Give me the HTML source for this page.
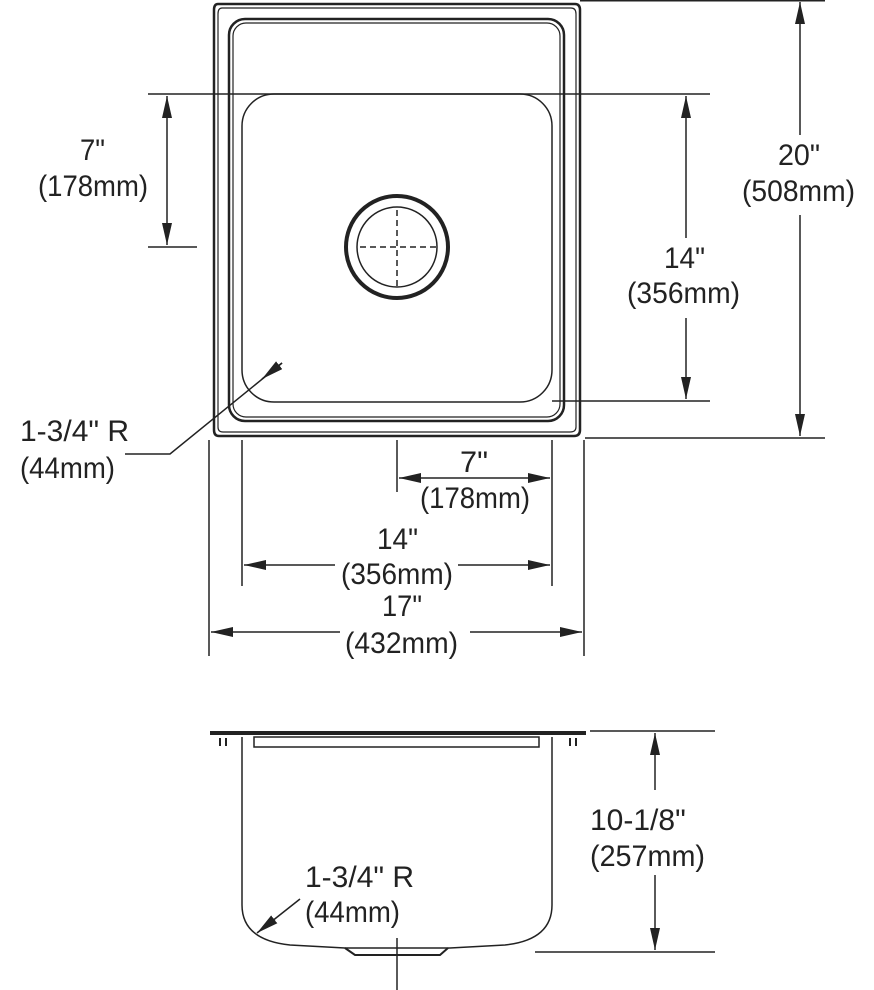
<!DOCTYPE html>
<html><head><style>
html,body{margin:0;padding:0;background:#fff;}
svg{display:block;}
text{font-family:"Liberation Sans",sans-serif;font-size:30px;fill:#222;}
</style></head><body>
<svg width="874" height="990" viewBox="0 0 874 990" xmlns="http://www.w3.org/2000/svg">
<defs>
<marker id="a" viewBox="0 0 10 10" refX="10" refY="5" markerWidth="22" markerHeight="10" orient="auto-start-reverse" markerUnits="userSpaceOnUse" preserveAspectRatio="none"><path d="M0,0 L10,5 L0,10 z" fill="#222"/></marker>
</defs>
<g fill="none" stroke="#222">
<path d="M218,4 L575,4 Q580,4 580,10 L580,430 Q580,436 574,436 L219,436 Q214,436 214,430 L214,10 Q214,4 218,4 Z" stroke-width="2.5"/>
<path d="M222,8 L571,8 Q576,8 576,14 L576,427 Q576,432 570,432 L223,432 Q218,432 218,427 L218,14 Q218,8 222,8 Z" stroke-width="1.2"/>
<rect x="229" y="19" width="335" height="402" rx="16" stroke-width="2.5"/>
<rect x="233" y="23" width="327" height="394" rx="13" stroke-width="1.2"/>
<rect x="242" y="94" width="310" height="308" rx="32" stroke-width="1.5"/>
<circle cx="397" cy="247" r="51" stroke-width="4"/>
<circle cx="397" cy="247" r="40" stroke-width="1.5"/>
<path d="M397,210 V288 M360,247 H438" stroke-width="1.5" stroke-dasharray="6,4"/>
<g stroke-width="1.5">
<line x1="148" y1="94" x2="710" y2="94"/>
<line x1="552" y1="401" x2="710" y2="401"/>
<line x1="148" y1="247" x2="197" y2="247"/>
<line x1="167" y1="96" x2="167" y2="245" marker-start="url(#a)" marker-end="url(#a)"/>
<line x1="686" y1="96" x2="686" y2="238" marker-start="url(#a)"/>
<line x1="686" y1="318" x2="686" y2="399" marker-end="url(#a)"/>
<line x1="580" y1="0.8" x2="825" y2="0.8"/>
<line x1="585" y1="438" x2="825" y2="438"/>
<line x1="800" y1="2" x2="800" y2="135" marker-start="url(#a)"/>
<line x1="800" y1="215" x2="800" y2="436" marker-end="url(#a)"/>
<line x1="209" y1="440" x2="209" y2="656"/>
<line x1="242" y1="440" x2="242" y2="586"/>
<line x1="397" y1="440" x2="397" y2="492"/>
<line x1="552" y1="440" x2="552" y2="586"/>
<line x1="584" y1="440" x2="584" y2="656"/>
<line x1="399" y1="478" x2="550" y2="478" marker-start="url(#a)" marker-end="url(#a)"/>
<line x1="244" y1="565" x2="335" y2="565" marker-start="url(#a)"/>
<line x1="458" y1="565" x2="550" y2="565" marker-end="url(#a)"/>
<line x1="211" y1="632" x2="340" y2="632" marker-start="url(#a)"/>
<line x1="470" y1="632" x2="582" y2="632" marker-end="url(#a)"/>
<polyline points="125,454 170,454 282,363"/>
<line x1="282" y1="363" x2="262" y2="379" marker-end="url(#a)"/>
</g>
<line x1="210" y1="733" x2="586" y2="733" stroke-width="4"/>
<path d="M254,737 H539 V747 H254 Z" stroke-width="1.5"/>
<path d="M242,737 V905 Q242,940 290,945 L345,948 H450 L505,945 Q552,940 552,905 V737" stroke-width="1.5"/>
<path d="M345,948 L355,955 H440 L448,948" stroke-width="2"/>
<path d="M220,738 v8 M226,738 v8 M570,738 v8 M576,738 v8" stroke-width="2"/>
<g stroke-width="1.5">
<line x1="397" y1="938" x2="397" y2="990"/>
<line x1="590" y1="731" x2="715" y2="731"/>
<line x1="535" y1="952" x2="715" y2="952"/>
<line x1="655" y1="733" x2="655" y2="790" marker-start="url(#a)"/>
<line x1="655" y1="875" x2="655" y2="950" marker-end="url(#a)"/>
<line x1="300" y1="899" x2="257" y2="933" marker-end="url(#a)"/>
</g>
</g>
<g>
<text x="80" y="160" textLength="25" lengthAdjust="spacingAndGlyphs">7"</text>
<text x="38" y="196" textLength="110" lengthAdjust="spacingAndGlyphs">(178mm)</text>
<text x="778" y="165" textLength="42" lengthAdjust="spacingAndGlyphs">20"</text>
<text x="742" y="201" textLength="113" lengthAdjust="spacingAndGlyphs">(508mm)</text>
<text x="664" y="268" textLength="41" lengthAdjust="spacingAndGlyphs">14"</text>
<text x="627" y="303" textLength="113" lengthAdjust="spacingAndGlyphs">(356mm)</text>
<text x="460" y="472" textLength="28" lengthAdjust="spacingAndGlyphs">7"</text>
<text x="420" y="508" textLength="110" lengthAdjust="spacingAndGlyphs">(178mm)</text>
<text x="377" y="549" textLength="41" lengthAdjust="spacingAndGlyphs">14"</text>
<text x="341" y="584" textLength="112" lengthAdjust="spacingAndGlyphs">(356mm)</text>
<text x="382" y="616" textLength="40" lengthAdjust="spacingAndGlyphs">17"</text>
<text x="345" y="653" textLength="113" lengthAdjust="spacingAndGlyphs">(432mm)</text>
<text x="590" y="830">10-1/8"</text>
<text x="590" y="866" textLength="115" lengthAdjust="spacingAndGlyphs">(257mm)</text>
<text x="20" y="441">1-3/4" R</text>
<text x="20" y="478" textLength="95" lengthAdjust="spacingAndGlyphs">(44mm)</text>
<text x="305" y="887">1-3/4" R</text>
<text x="305" y="922" textLength="95" lengthAdjust="spacingAndGlyphs">(44mm)</text>
</g>
</svg>
</body></html>
